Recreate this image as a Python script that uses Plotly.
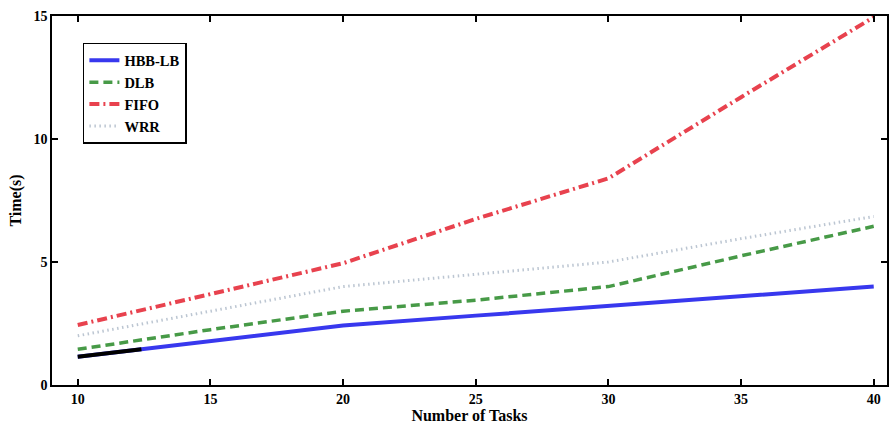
import plotly.graph_objects as go

tasks = [10, 15, 20, 25, 30, 35, 40]
hbb_lb = [1.15, 1.8, 2.42, 2.82, 3.2, 3.6, 4.0]
dlb = [1.45, 2.25, 3.0, 3.45, 4.0, 5.25, 6.45]
fifo = [2.44, 3.7, 4.95, 6.75, 8.4, 11.7, 14.95]
wrr = [2.0, 3.0, 4.0, 4.5, 5.0, 5.95, 6.85]
extra_x = [10, 12.4]
extra_y = [1.15, 1.45]

FONT = "Liberation Serif, Times New Roman, serif"

fig = go.Figure()
fig.add_trace(go.Scatter(x=tasks, y=hbb_lb, mode="lines", name="HBB-LB",
                         line=dict(color="#3838ee", width=4)))
fig.add_trace(go.Scatter(x=tasks, y=dlb, mode="lines", name="DLB",
                         line=dict(color="#479a47", width=3.5, dash="9px,5px")))
fig.add_trace(go.Scatter(x=tasks, y=fifo, mode="lines", name="FIFO",
                         line=dict(color="#e8424e", width=4, dash="10px,4px,2px,4px")))
fig.add_trace(go.Scatter(x=tasks, y=wrr, mode="lines", name="WRR",
                         line=dict(color="#bcc6d2", width=3, dash="1.5px,3.5px")))
fig.add_trace(go.Scatter(x=extra_x, y=extra_y, mode="lines", showlegend=False,
                         line=dict(color="#000000", width=4)))

axis_common = dict(showline=True, linecolor="black", linewidth=1.5, mirror="ticks",
                   ticks="inside", ticklen=6, tickcolor="black", tickwidth=1.5,
                   showgrid=False, zeroline=False, automargin=False,
                   tickfont=dict(family=FONT, size=14, color="black", weight="bold"))

fig.update_layout(
    width=895, height=426,
    margin=dict(l=52, r=8, t=16, b=41),
    paper_bgcolor="white", plot_bgcolor="white",
    font=dict(family=FONT, color="black", weight="bold"),
    xaxis=dict(range=[9.03, 40.5], tickvals=[10, 15, 20, 25, 30, 35, 40],
               title=dict(text="Number of Tasks", font=dict(family=FONT, size=16, weight="bold"), standoff=2),
               **axis_common),
    yaxis=dict(range=[0, 15], tickvals=[0, 5, 10, 15],
               title=dict(text="Time(s)", font=dict(family=FONT, size=16, weight="bold"), standoff=8),
               **axis_common),
    legend=dict(x=0.037, y=0.927, xanchor="left", yanchor="top",
                bordercolor="black", borderwidth=1.5, bgcolor="white",
                font=dict(family=FONT, size=14.5, color="black", weight="bold"),
                tracegroupgap=0, itemwidth=30),
)

fig.write_html("out.html", config={"displayModeBar": False},
               post_script="document.body.style.margin='0';document.body.style.overflow='hidden';")
